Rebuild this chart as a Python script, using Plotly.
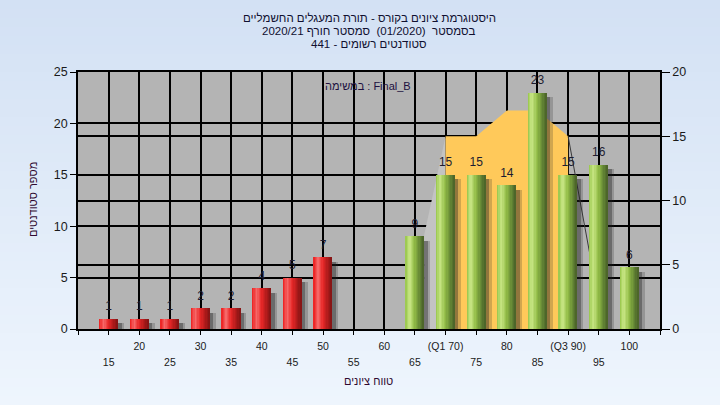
import plotly.graph_objects as go

# ---------------- data ----------------
categories = [15, 20, 25, 30, 35, 40, 45, 50, 55, 60, 65, 70, 75, 80, 85, 90, 95, 100]
counts = [1, 1, 1, 2, 2, 4, 5, 7, 0, 0, 9, 15, 15, 14, 23, 15, 16, 6]
tick_labels = ["15", "20", "25", "30", "35", "40", "45", "50", "55", "60", "65",
               "(Q1 70)", "75", "80", "85", "(Q3 90)", "95", "100"]
iqr_x = [70, 75, 80, 85, 90]
iqr_y = [15, 15, 17, 17, 15]
lower_tail_x = [66.5, 70]
lower_tail_y = [7.3, 15]
upper_tail_x = [90, 95.8]
upper_tail_y = [15, 0]
pass_mark = 55

title_lines = ["היסטוגרמת ציונים בקורס - תורת המעגלים החשמליים",
               "בסמסטר  (01/2020)  סמסטר חורף 2020/21",
               "סטודנטים רשומים - 441"]
legend_text = "במשימה : Final_B"
x_title = "טווח ציונים"
y_title = "מספר סטודנטים"

# ---------------- layout constants ----------------
W, H = 720, 405
ML, MR, MT, MB = 78, 60, 72, 76
PW, PH = W - ML - MR, H - MT - MB
FONT = "Liberation Sans, Arial, sans-serif"


def px_x(px):
    return (px - ML) / PW


def px_y(py):
    return (H - MB - py) / PH


def lerp(c1, c2, t):
    return tuple(int(round(a + (b - a) * t)) for a, b in zip(c1, c2))


def grad(stops, t):
    for (p0, c0), (p1, c1) in zip(stops, stops[1:]):
        if p0 <= t <= p1:
            return lerp(c0, c1, (t - p0) / (p1 - p0))
    return stops[-1][1]


green_stops = [(0.0, (150, 196, 72)), (0.22, (202, 232, 135)), (0.5, (146, 188, 70)),
               (0.8, (98, 132, 52)), (1.0, (72, 96, 40))]
red_stops = [(0.0, (236, 28, 28)), (0.25, (246, 104, 104)), (0.5, (232, 40, 40)),
             (0.8, (172, 26, 26)), (1.0, (128, 20, 20))]

fig = go.Figure()

# ------- main (right) axis traces: quartile band and tails -------
fig.add_trace(go.Scatter(x=lower_tail_x, y=lower_tail_y, fill="tozeroy", mode="lines",
                         line=dict(width=0), fillcolor="#c3c3c3", yaxis="y",
                         hoverinfo="skip", showlegend=False))
fig.add_trace(go.Scatter(x=iqr_x, y=iqr_y, fill="tozeroy", mode="lines",
                         line=dict(width=0), fillcolor="#ffc95a", yaxis="y",
                         hoverinfo="skip", showlegend=False))
fig.add_trace(go.Scatter(x=upper_tail_x, y=upper_tail_y, mode="lines",
                         line=dict(width=1, color="#3a3a3a"), yaxis="y",
                         hoverinfo="skip", showlegend=False))
# invisible trace that carries the second (staggered) x tick-label row
fig.add_trace(go.Scatter(x=[categories[0]], y=[0], mode="none", xaxis="x2", yaxis="y",
                         hoverinfo="skip", showlegend=False))

# ------- bars on left axis (overlay) -------
BW = 3.0
shadow_vals = [max(c - 0.45, 0) for c in counts]
fig.add_trace(go.Bar(x=categories, y=shadow_vals, width=BW + 0.5, offset=-BW / 2 + 0.5,
                     marker=dict(color="rgba(40,40,40,0.22)", line=dict(width=0)),
                     yaxis="y2", hoverinfo="skip", showlegend=False))
fig.add_trace(go.Bar(x=categories, y=shadow_vals, width=BW, offset=-BW / 2 + 0.6,
                     marker=dict(color="rgba(30,30,30,0.35)", line=dict(width=0)),
                     yaxis="y2", hoverinfo="skip", showlegend=False))

N = 14
for i in range(N):
    t = (i + 0.5) / N
    cols = []
    for c in categories:
        rgb = grad(red_stops if c < pass_mark else green_stops, t)
        cols.append("rgb(%d,%d,%d)" % rgb)
    fig.add_trace(go.Bar(x=categories, y=counts, width=BW / N + 0.02,
                         offset=-BW / 2 + i * BW / N,
                         marker=dict(color=cols, line=dict(width=0)),
                         yaxis="y2", hoverinfo="skip", showlegend=False))

# value labels
lab_x = [c for c, v in zip(categories, counts) if v > 0]
lab_y = [v for v in counts if v > 0]
fig.add_trace(go.Scatter(x=lab_x, y=lab_y, mode="markers+text", text=[str(v) for v in lab_y],
                         textposition="top center",
                         marker=dict(size=7, color="rgba(0,0,0,0)"),
                         textfont=dict(family=FONT, size=12, color="#1c1c30"),
                         yaxis="y2", hoverinfo="skip", showlegend=False))

# ------- background gradient bands -------
shapes = []
nb = 45
top_c, bot_c = (211, 225, 244), (238, 245, 253)
for k in range(nb):
    y0px = H * k / nb
    y1px = H * (k + 1) / nb + 1
    rgb = lerp(top_c, bot_c, k / (nb - 1))
    shapes.append(dict(type="rect", xref="paper", yref="paper", layer="below",
                       x0=px_x(0), x1=px_x(W), y0=px_y(y1px), y1=px_y(y0px),
                       fillcolor="rgb(%d,%d,%d)" % rgb, line=dict(width=0)))
shapes.append(dict(type="rect", xref="paper", yref="paper", layer="below",
                   x0=0, x1=1, y0=0, y1=1, fillcolor="#b4b4b4", line=dict(width=0)))

tickvals = [10] + categories + [105]
row1_text = [""] + [lab if i % 2 == 1 else "" for i, lab in enumerate(tick_labels)] + [""]
row2_text = [""] + [lab if i % 2 == 0 else "" for i, lab in enumerate(tick_labels)] + [""]

annotations = []
for ln, py in zip(title_lines, [18, 31, 44]):
    annotations.append(dict(text=ln, x=0.5, xref="paper", xanchor="center",
                            y=px_y(py), yref="paper", yanchor="middle", showarrow=False,
                            font=dict(family=FONT, size=11.5, color="#101030")))
annotations.append(dict(text=legend_text, x=px_x(368), xref="paper", xanchor="center",
                        y=px_y(86), yref="paper", yanchor="middle", showarrow=False,
                        font=dict(family=FONT, size=11, color="#201040")))
annotations.append(dict(text=x_title, x=px_x(368), xref="paper", xanchor="center",
                        y=px_y(381), yref="paper", yanchor="middle", showarrow=False,
                        font=dict(family=FONT, size=11, color="#300a30")))
annotations.append(dict(text=y_title, x=px_x(33), xref="paper", xanchor="center",
                        y=px_y(200), yref="paper", yanchor="middle", showarrow=False,
                        textangle=-90,
                        font=dict(family=FONT, size=11, color="#300a30")))

xfont = dict(family=FONT, size=10.5, color="#1a1a1a")
yfont = dict(family=FONT, size=12.5, color="#1a1a1a")
fig.update_layout(
    width=W, height=H,
    margin=dict(l=ML, r=MR, t=MT, b=MB, pad=0),
    paper_bgcolor="#e2ecf8",
    plot_bgcolor="rgba(0,0,0,0)",
    barmode="overlay",
    bargap=0,
    showlegend=False,
    shapes=shapes,
    annotations=annotations,
    xaxis=dict(range=[10, 105], tickmode="array", tickvals=tickvals, ticktext=row1_text,
               ticks="outside", ticklen=4, tickcolor="black", tickfont=xfont,
               ticklabelstandoff=3,
               showgrid=True, gridcolor="black", gridwidth=1.5,
               showline=True, linecolor="black", linewidth=1.5, mirror=True,
               zeroline=False, fixedrange=True),
    xaxis2=dict(range=[10, 105], overlaying="x", side="bottom", anchor="y",
                tickmode="array", tickvals=tickvals, ticktext=row2_text,
                ticks="", tickfont=xfont, ticklabelstandoff=25,
                showgrid=False, showline=False, zeroline=False, fixedrange=True),
    yaxis=dict(range=[0, 20], side="right", tickvals=[0, 5, 10, 15, 20],
               ticks="outside", ticklen=8, tickcolor="black", tickfont=yfont,
               showgrid=True, gridcolor="black", gridwidth=1.5,
               showline=True, linecolor="black", linewidth=1.5,
               zeroline=False, fixedrange=True),
    yaxis2=dict(range=[0, 25], side="left", overlaying="y", tickvals=[0, 5, 10, 15, 20, 25],
                ticks="outside", ticklen=6, tickcolor="black", tickfont=yfont,
                showgrid=True, gridcolor="black", gridwidth=1.5,
                showline=True, linecolor="black", linewidth=1.5,
                zeroline=False, fixedrange=True),
)

fig.write_html("out.html", config={"displayModeBar": False},
               post_script="document.body.style.margin='0';"
                           "document.body.style.background='rgb(230,239,250)';")
